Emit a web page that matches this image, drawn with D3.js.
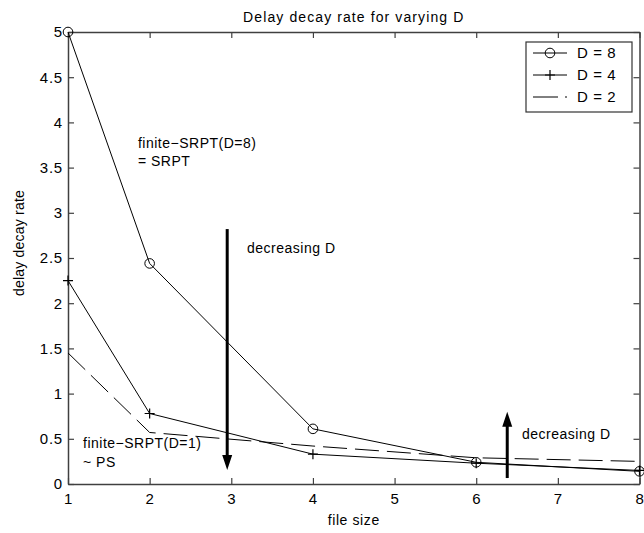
<!DOCTYPE html>
<html>
<head>
<meta charset="utf-8">
<script src="https://cdn.jsdelivr.net/npm/d3@7/dist/d3.min.js"></script>
<style>
  html, body { margin: 0; padding: 0; background: #fff; }
  svg { display: block; }
  text { font-family: "Liberation Sans", Arial, Helvetica, sans-serif; fill: #000; }
</style>
</head>
<body>
<div id="chart"></div>
<script>
// File sizes on the horizontal axis
const fileSizes = [1, 2, 4, 6, 8];

// Delay decay rate per policy parameter D
const seriesD8 = [5.0, 2.44, 0.61, 0.24, 0.14];
const seriesD4 = [2.25, 0.78, 0.33, 0.23, 0.15];
const seriesD2 = [1.45, 0.57, 0.42, 0.29, 0.25];

const seriesNames = ["D = 8", "D = 4", "D = 2"];
const seriesMarkers = ["circle", "plus", "none"];

// Tick labels
const xTicks = [1, 2, 3, 4, 5, 6, 7, 8];
const yTicks = [0, 0.5, 1, 1.5, 2, 2.5, 3, 3.5, 4, 4.5, 5];

const W = 644, H = 533;
const margin = { left: 68, right: 4.5, top: 32, bottom: 49 };

const svg = d3.select("#chart").append("svg")
  .attr("width", W).attr("height", H);

const x = d3.scaleLinear().domain([1, 8]).range([margin.left, W - margin.right]);
const y = d3.scaleLinear().domain([0, 5]).range([H - margin.bottom, margin.top]);

const axisColor = "#404040";
const tickLen = 6;

// Axes with inward ticks on all four sides
const gx = svg.append("g").attr("transform", `translate(0,${y(0)})`)
  .call(d3.axisBottom(x).tickValues(xTicks).tickSizeInner(-tickLen).tickSizeOuter(0).tickPadding(9).tickFormat(d3.format("d")));
const gxTop = svg.append("g").attr("transform", `translate(0,${y(5)})`)
  .call(d3.axisTop(x).tickValues(xTicks).tickSizeInner(-tickLen).tickSizeOuter(0).tickFormat(""));
const gy = svg.append("g").attr("transform", `translate(${x(1)},0)`)
  .call(d3.axisLeft(y).tickValues(yTicks).tickSizeInner(-tickLen).tickSizeOuter(0).tickPadding(5).tickFormat(d => d3.format("")(d)));
const gyRight = svg.append("g").attr("transform", `translate(${x(8)},0)`)
  .call(d3.axisRight(y).tickValues(yTicks).tickSizeInner(-tickLen).tickSizeOuter(0).tickFormat(""));

[gx, gxTop, gy, gyRight].forEach(g => {
  g.selectAll("path.domain").attr("stroke", axisColor).attr("stroke-width", 1.5);
  g.selectAll(".tick line").attr("stroke", axisColor).attr("stroke-width", 1.2);
  g.selectAll(".tick text").attr("font-size", 15).attr("letter-spacing", "0.8px")
    .attr("font-family", "'Liberation Sans', Arial, sans-serif").attr("fill", "#000");
});
gx.selectAll(".tick text").attr("dy", "0.71em");

// Title and axis labels
svg.append("text").attr("x", (x(1) + x(8)) / 2).attr("y", 22)
  .attr("text-anchor", "middle").attr("font-size", 14).attr("letter-spacing", "1.1px")
  .text("Delay decay rate for varying D");
svg.append("text").attr("x", (x(1) + x(8)) / 2).attr("y", 525)
  .attr("text-anchor", "middle").attr("font-size", 14).attr("letter-spacing", "0.6px")
  .text("file size");
svg.append("text").attr("transform", `translate(24,243) rotate(-90)`)
  .attr("text-anchor", "middle").attr("font-size", 14).attr("letter-spacing", "0.2px")
  .text("delay decay rate");

// Series lines
const line = d3.line().x((d, i) => x(fileSizes[i])).y(d => y(d));
const allSeries = [seriesD8, seriesD4, seriesD2];
const dashes = [null, null, "24,8"];

allSeries.forEach((s, k) => {
  svg.append("path").datum(s)
    .attr("d", line)
    .attr("fill", "none")
    .attr("stroke", "#000")
    .attr("stroke-width", 1)
    .attr("stroke-dasharray", dashes[k]);
});

function drawMarker(g, type, cx, cy) {
  if (type === "circle") {
    g.append("circle").attr("cx", cx).attr("cy", cy).attr("r", 4.8)
      .attr("fill", "none").attr("stroke", "#000").attr("stroke-width", 1);
  } else if (type === "plus") {
    g.append("path")
      .attr("d", `M${cx - 5},${cy}H${cx + 5}M${cx},${cy - 5}V${cy + 5}`)
      .attr("stroke", "#000").attr("stroke-width", 1.2).attr("fill", "none");
  }
}

allSeries.forEach((s, k) => {
  const g = svg.append("g");
  s.forEach((v, i) => drawMarker(g, seriesMarkers[k], x(fileSizes[i]), y(v)));
});

// Annotation text
const noteFont = 14;
const notes = [
  { x: 1.857, y: 3.717, t: "finite\u2212SRPT(D=8)" },
  { x: 1.857, y: 3.518, t: "= SRPT" },
  { x: 1.184, y: 0.398, t: "finite\u2212SRPT(D=1)" },
  { x: 1.184, y: 0.188, t: "~ PS" },
  { x: 3.193, y: 2.555, t: "decreasing D" },
  { x: 6.561, y: 0.498, t: "decreasing D" }
];
notes.forEach(n => {
  svg.append("text").attr("x", x(n.x)).attr("y", y(n.y))
    .attr("font-size", noteFont).attr("letter-spacing", "0.5px").text(n.t);
});

// Arrows
function arrow(x0, y0, y1) {
  const px = x(x0), pa = y(y0), pb = y(y1);
  const dir = pb > pa ? 1 : -1;
  const headLen = 15, headHalf = 5;
  svg.append("line").attr("x1", px).attr("x2", px)
    .attr("y1", pa).attr("y2", pb - dir * headLen + dir * 1)
    .attr("stroke", "#000").attr("stroke-width", 3);
  svg.append("path")
    .attr("d", `M${px - headHalf},${pb - dir * headLen}L${px + headHalf},${pb - dir * headLen}L${px},${pb}Z`)
    .attr("fill", "#000");
}
arrow(2.95, 2.82, 0.155);
arrow(6.38, 0.066, 0.8);

// Legend
const lg = svg.append("g");
lg.append("rect").attr("x", 526).attr("y", 42).attr("width", 106).attr("height", 70)
  .attr("fill", "#fff").attr("stroke", "#333").attr("stroke-width", 1.2);
seriesNames.forEach((name, k) => {
  const ry = 53 + k * 22;
  lg.append("line").attr("x1", 533).attr("x2", 567).attr("y1", ry).attr("y2", ry)
    .attr("stroke", "#000").attr("stroke-width", 1)
    .attr("stroke-dasharray", k === 2 ? "25,7" : null);
  drawMarker(lg, seriesMarkers[k], 550, ry);
  lg.append("text").attr("x", 577).attr("y", ry).attr("dy", "0.36em")
    .attr("font-size", 15).attr("letter-spacing", "0.6px").text(name);
});
</script>
</body>
</html>
